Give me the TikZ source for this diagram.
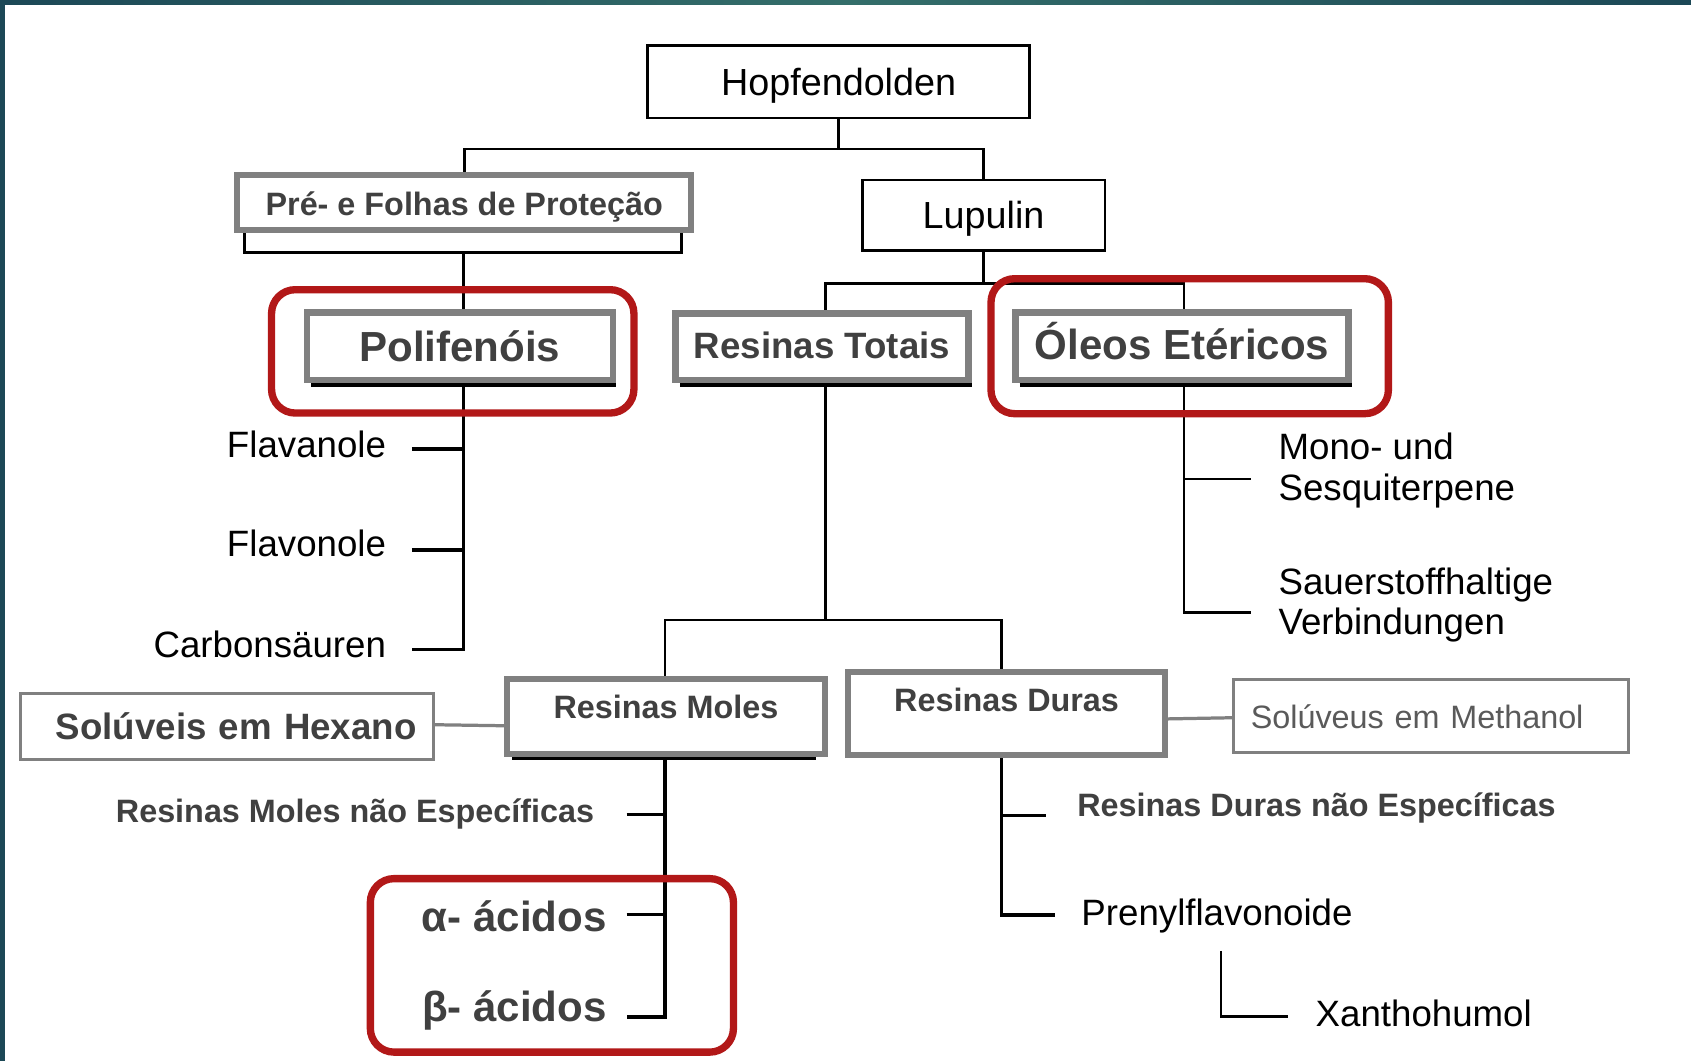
\documentclass[tikz,border=0pt]{standalone}
\usepackage{fontspec}
\setmainfont{Liberation Sans}
\usetikzlibrary{backgrounds,calc}
\definecolor{hlred}{RGB}{178,24,24}
\definecolor{boxgray}{RGB}{128,128,128}
\definecolor{txtgray}{RGB}{64,64,64}
\definecolor{methgray}{RGB}{90,90,90}
\definecolor{framedark}{RGB}{28,72,86}
\definecolor{framelight}{RGB}{52,110,106}
\newcommand\myfs[2]{\fontsize{#1}{#2}\selectfont}
\begin{document}
\begin{tikzpicture}[x=1pt,y=-1pt,
  blackbox/.style={draw=black,line width=2.2pt,fill=white,inner sep=0pt,outer sep=0pt,text=black},
  graybox/.style={draw=boxgray,line width=6pt,fill=white,inner sep=0pt,outer sep=0pt,text=txtgray},
  thingray/.style={draw=boxgray,line width=2.8pt,fill=white,inner sep=0pt,outer sep=0pt},
  hl/.style={draw=hlred,line width=6.8pt,rounded corners=22pt,inner sep=0pt,outer sep=0pt},
  conn/.style={draw=black,line width=2.4pt},
  tick/.style={draw=black,line width=3pt},
  shadowline/.style={draw=black,line width=3.5pt},
  grayconn/.style={draw=boxgray,line width=3pt},
  lbl/.style={inner sep=0pt,outer sep=0pt,text=black},
  blbl/.style={inner sep=0pt,outer sep=0pt,text=txtgray},
]
\useasboundingbox (0,0) rectangle (1568,984);

% boxes
\node[blackbox,minimum width=354.1pt,minimum height=67pt,text height=24.8pt,text depth=0pt,font=\myfs{35}{40}] (hopf) at (777.6,75.7) {Hopfendolden};
\node[graybox,line width=5.6pt,minimum width=420.8pt,minimum height=51.6pt,text height=23.2pt,text depth=0pt,font=\myfs{30}{36}\bfseries] (pre) at (430.5,187.8) {Pré- e Folhas de Proteção};
\node[blackbox,minimum width=224.7pt,minimum height=65.2pt,text height=24pt,text depth=0pt,font=\myfs{35}{40}] (lup) at (912,199.7) {Lupulin};
\node[graybox,minimum width=283.6pt,minimum height=62.4pt,text height=28.6pt,text depth=0pt,font=\myfs{39}{45}\bfseries] (pol) at (426.4,321.1) {Polifenóis};
\node[graybox,minimum width=271.5pt,minimum height=61.7pt,text height=21.6pt,text depth=0pt,font=\myfs{34}{40}\bfseries] (rt) at (762.2,321.5) {Resinas Totais};
\node[graybox,minimum width=308.9pt,minimum height=62.7pt,text height=25.6pt,text depth=0pt,font=\myfs{39}{45}\bfseries] (ol) at (1096,321) {Óleos Etéricos};
\node[graybox,line width=5.6pt,minimum width=294.4pt,minimum height=69pt,text height=20pt,text depth=16.6pt,font=\myfs{30}{36}\bfseries] (rm) at (617.5,664.3) {Resinas Moles};
\node[graybox,line width=5.6pt,minimum width=293.6pt,minimum height=76.7pt,text height=20pt,text depth=23.7pt,font=\myfs{30}{36}\bfseries] (rd) at (933.4,661.85) {Resinas Duras};
\node[thingray,minimum width=383.2pt,minimum height=61.2pt,text width=351.2pt,inner xsep=16pt,align=right,text height=24pt,text depth=0pt,text=txtgray,font=\myfs{34}{40}\bfseries] (hex) at (210.6,674) {Solúveis em Hexano};
\node[thingray,minimum width=365.6pt,minimum height=68.3pt,text width=334pt,inner xsep=15.8pt,align=left,text height=22.8pt,text depth=0pt,text=methgray,font=\myfs{30}{36}] (meth) at (1326.8,664) {Solúveus em Methanol};

% labels
\node[lbl,anchor=base east,font=\myfs{34}{40}] (flava) at (357.9,424) {Flavanole};
\node[lbl,anchor=base east,font=\myfs{34}{40}] (flavo) at (357.9,516) {Flavonole};
\node[lbl,anchor=base east,font=\myfs{34}{40}] (carb) at (357.9,609.5) {Carbonsäuren};
\node[lbl,anchor=west,align=left,font=\myfs{34}{38}] (mono) at (1185.6,436) {Mono- und\\Sesquiterpene};
\node[lbl,anchor=west,align=left,font=\myfs{34}{38}] (sauer) at (1185.6,561) {Sauerstoffhaltige\\Verbindungen};
\node[blbl,anchor=base east,font=\myfs{30}{36}\bfseries] (rmne) at (551,763) {Resinas Moles não Específicas};
\node[blbl,anchor=base east,font=\myfs{39}{45}\bfseries] (alpha) at (562.6,864) {α- ácidos};
\node[blbl,anchor=base east,font=\myfs{39}{45}\bfseries] (beta) at (562.6,947.4) {β- ácidos};
\node[blbl,anchor=base west,font=\myfs{30}{36}\bfseries] (rdne) at (999,757) {Resinas Duras não Específicas};
\node[lbl,anchor=base west,font=\myfs{34}{40}] (pren) at (1002.8,858) {Prenylflavonoide};
\node[lbl,anchor=base west,font=\myfs{34}{40}] (xan) at (1220,952) {Xanthohumol};

% highlight frames
\node[hl,minimum width=336pt,minimum height=114.4pt] (hl1) at (419.8,325.8) {};
\node[hl,minimum width=368.5pt,minimum height=125.2pt] (hl2) at (1103.15,321) {};
\node[hl,minimum width=336.7pt,minimum height=160.9pt] (hl3) at (511.75,895.15) {};

\begin{pgfonlayer}{background}
\fill[white] (0,0) rectangle (1568,984);
\fill[framedark] (0,0) rectangle (4.5,984);
\shade[left color=framedark,right color=framedark,middle color=framelight] (0,0) rectangle (1568,4.6);

% shadows
\draw[shadowline] ([shift={(4,4.7)}]pol.south west) -- ([shift={(2.8,4.7)}]pol.south east);
\draw[shadowline] ([shift={(4.4,4.7)}]rt.south west) -- ([shift={(3.1,4.7)}]rt.south east);
\draw[shadowline] ([shift={(4,4.7)}]ol.south west) -- ([shift={(3.1,4.7)}]ol.south east);
\draw[shadowline] ([shift={(4.7,4.2)}]rm.south west) -- ([shift={(-8.3,4.2)}]rm.south east);

% connectors
\draw[conn] (hopf.south) -- ++(0,29) coordinate (j1);
\draw[conn] (pre.north) |- (j1) -| (lup.north);
\draw[conn] ([shift={(6.7,0)}]pre.south west) -- ++(0,20.4) -| ([shift={(-8.9,0)}]pre.south east);
\coordinate (brm) at ([shift={(-0.8,20.4)}]pre.south);
\draw[conn] (lup.south) -- ++(0,30.4) coordinate (j2);
\draw[conn] ([shift={(3.3,0)}]rt.north) |- (j2) -| ([shift={(1.7,0)}]ol.north);

% Polifenois branch
\draw[tick] (brm) |- ([shift={(24.1,-7.5)}]carb.base east);
\draw[tick] ([shift={(24.1,-7.6)}]flava.base east) -- ++(47.7,0);
\draw[tick] ([shift={(24.1,-6)}]flavo.base east) -- ++(47.7,0);

% Oleos branch
\draw[conn] ([shift={(1.8,0)}]ol.south) |- ([shift={(-25.8,7)}]sauer.west);
\draw[conn] ([shift={(-25.8,8)}]mono.west) -- ++(-62,0);

% Resinas Totais split
\draw[conn] ([shift={(3.3,0)}]rt.south) -- ++(0,222.5) coordinate (j3);
\draw[conn] ([shift={(-0.9,0)}]rm.north) |- (j3) -| ([shift={(-4.8,0)}]rd.north);

% Resinas Moles branch
\draw[tick] ([shift={(-0.9,0)}]rm.south) |- ([shift={(18.4,-4.4)}]beta.base east);
\draw[tick] ([shift={(30,-8)}]rmne.base east) -- ++(35.6,0);
\draw[tick] ([shift={(18.4,-16)}]alpha.base east) -- ++(35.6,0);

% Resinas Duras branch
\draw[tick] ([shift={(-4.8,0)}]rd.south) |- ([shift={(-24.8,-9.5)}]pren.base west);
\draw[tick] ([shift={(-29.5,-1)}]rdne.base west) -- ++(-40.9,0);
\coordinate (xl) at ([shift={(129.2,23.6)}]pren.base west);
\draw[conn] (xl) |- ([shift={(-26,-9.2)}]xan.base west);

% solvent connectors
\draw[grayconn] ([shift={(0,-2)}]hex.east) -- ([shift={(0,8.7)}]rm.west);
\draw[grayconn] ([shift={(0,4.8)}]rd.east) -- ([shift={(0,1.5)}]meth.west);
\end{pgfonlayer}
\end{tikzpicture}
\end{document}
